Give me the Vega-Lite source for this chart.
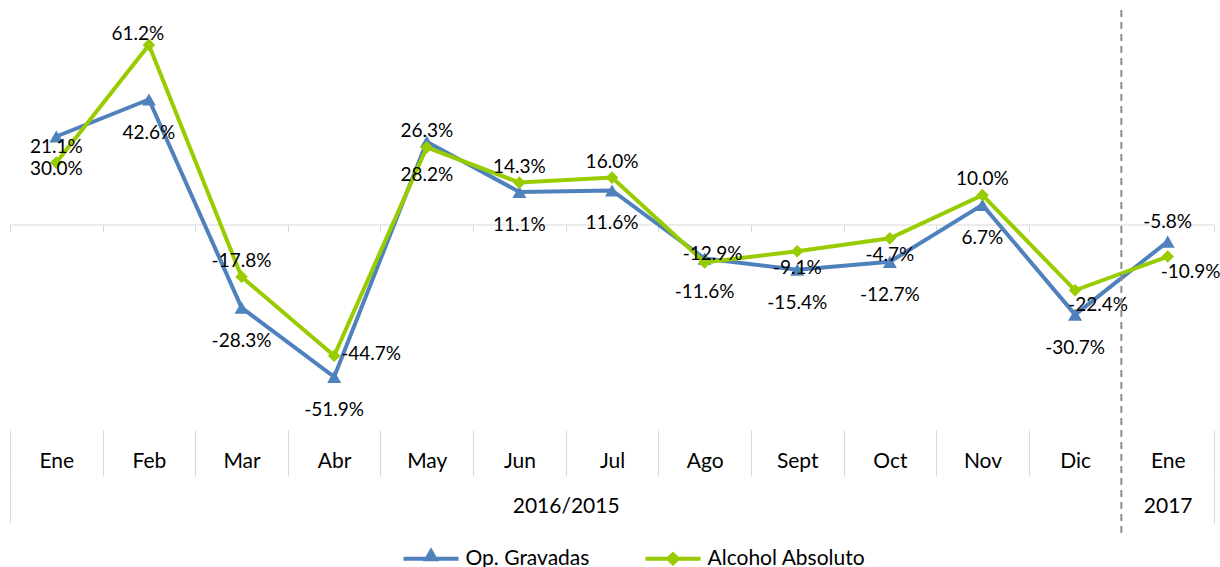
{
  "$schema": "https://vega.github.io/schema/vega-lite/v6.json",
  "width": 1204,
  "height": 430,
  "padding": {"left": 9, "top": 0, "right": 0, "bottom": 0},
  "config": {
    "font": "Lato",
    "view": {"stroke": null},
    "locale": {"number": {"decimal": ".", "thousands": ",", "grouping": [3], "currency": ["$", ""], "minus": "-"}}
  },
  "datasets": {
    "d": [
      {"clave": "Ene 2016", "serie": "Op. Gravadas", "valor": 0.300},
      {"clave": "Feb 2016", "serie": "Op. Gravadas", "valor": 0.426},
      {"clave": "Mar 2016", "serie": "Op. Gravadas", "valor": -0.283},
      {"clave": "Abr 2016", "serie": "Op. Gravadas", "valor": -0.519},
      {"clave": "May 2016", "serie": "Op. Gravadas", "valor": 0.282},
      {"clave": "Jun 2016", "serie": "Op. Gravadas", "valor": 0.111},
      {"clave": "Jul 2016", "serie": "Op. Gravadas", "valor": 0.116},
      {"clave": "Ago 2016", "serie": "Op. Gravadas", "valor": -0.116},
      {"clave": "Sept 2016", "serie": "Op. Gravadas", "valor": -0.154},
      {"clave": "Oct 2016", "serie": "Op. Gravadas", "valor": -0.127},
      {"clave": "Nov 2016", "serie": "Op. Gravadas", "valor": 0.067},
      {"clave": "Dic 2016", "serie": "Op. Gravadas", "valor": -0.307},
      {"clave": "Ene 2017", "serie": "Op. Gravadas", "valor": -0.058},
      {"clave": "Ene 2016", "serie": "Alcohol Absoluto", "valor": 0.211},
      {"clave": "Feb 2016", "serie": "Alcohol Absoluto", "valor": 0.612},
      {"clave": "Mar 2016", "serie": "Alcohol Absoluto", "valor": -0.178},
      {"clave": "Abr 2016", "serie": "Alcohol Absoluto", "valor": -0.447},
      {"clave": "May 2016", "serie": "Alcohol Absoluto", "valor": 0.263},
      {"clave": "Jun 2016", "serie": "Alcohol Absoluto", "valor": 0.143},
      {"clave": "Jul 2016", "serie": "Alcohol Absoluto", "valor": 0.160},
      {"clave": "Ago 2016", "serie": "Alcohol Absoluto", "valor": -0.129},
      {"clave": "Sept 2016", "serie": "Alcohol Absoluto", "valor": -0.091},
      {"clave": "Oct 2016", "serie": "Alcohol Absoluto", "valor": -0.047},
      {"clave": "Nov 2016", "serie": "Alcohol Absoluto", "valor": 0.100},
      {"clave": "Dic 2016", "serie": "Alcohol Absoluto", "valor": -0.224},
      {"clave": "Ene 2017", "serie": "Alcohol Absoluto", "valor": -0.109}
    ]
  },
  "layer": [
    {
      "data": {"name": "d"},
      "encoding": {
        "x": {
          "field": "clave", "type": "nominal", "sort": null,
          "scale": {"type": "band", "domain": ["Ene 2016","Feb 2016","Mar 2016","Abr 2016","May 2016","Jun 2016","Jul 2016","Ago 2016","Sept 2016","Oct 2016","Nov 2016","Dic 2016","Ene 2017"], "paddingInner": 0, "paddingOuter": 0},
          "axis": {
            "orient": "bottom", "title": null, "domain": false, "grid": false,
            "tickBand": "extent", "tickSize": 46, "tickColor": "#d9d9d9", "tickWidth": 1,
            "tickOpacity": {"condition": {"test": "datum.value == 'Dic 2016'", "value": 0}, "value": 1},
            "labelExpr": "isString(datum.value) ? split(datum.value, ' ')[0] : ''",
            "labelFontSize": 21, "labelColor": "#000000", "labelBaseline": "middle",
            "labelPadding": -15, "labelAngle": 0, "labelOverlap": false
          }
        },
        "y": {"field": "valor", "type": "quantitative", "scale": {"domain": [-0.7, 0.765], "nice": false, "zero": false}, "axis": null}
      },
      "layer": [
        {"transform": [{"filter": "datum.serie == 'Op. Gravadas'"}], "mark": {"type": "line", "color": "#4F81BD", "strokeWidth": 4}},
        {"transform": [{"filter": "datum.serie == 'Op. Gravadas'"}], "mark": {"type": "point", "shape": "triangle-up", "size": 196, "filled": true, "color": "#4F81BD", "opacity": 1}},
        {"transform": [{"filter": "datum.serie == 'Alcohol Absoluto'"}], "mark": {"type": "line", "color": "#99CC00", "strokeWidth": 4}},
        {"transform": [{"filter": "datum.serie == 'Alcohol Absoluto'"}], "mark": {"type": "point", "shape": "diamond", "size": 160, "filled": true, "color": "#99CC00", "opacity": 1}},
        {
          "transform": [{"filter": "datum.serie == 'Op. Gravadas' && datum.clave != 'Ene 2017'"}],
          "mark": {"type": "text", "fontSize": 19, "color": "#000000", "baseline": "middle", "dy": 33},
          "encoding": {"text": {"field": "valor", "type": "quantitative", "format": ".1%"}}
        },
        {
          "transform": [{"filter": "datum.serie == 'Op. Gravadas' && datum.clave == 'Ene 2017'"}],
          "mark": {"type": "text", "fontSize": 19, "color": "#000000", "baseline": "middle", "dy": -20},
          "encoding": {"text": {"field": "valor", "type": "quantitative", "format": ".1%"}}
        },
        {
          "transform": [{"filter": "datum.serie == 'Alcohol Absoluto' && indexof(['Feb 2016','Abr 2016','Ago 2016','Sept 2016','Oct 2016','Dic 2016','Ene 2017'], datum.clave) < 0"}],
          "mark": {"type": "text", "fontSize": 19, "color": "#000000", "baseline": "middle", "dy": -16},
          "encoding": {"text": {"field": "valor", "type": "quantitative", "format": ".1%"}}
        },
        {
          "transform": [{"filter": "datum.serie == 'Alcohol Absoluto' && datum.clave == 'Feb 2016'"}],
          "mark": {"type": "text", "fontSize": 19, "color": "#000000", "baseline": "middle", "dx": -11, "dy": -11},
          "encoding": {"text": {"field": "valor", "type": "quantitative", "format": ".1%"}}
        },
        {
          "transform": [{"filter": "datum.serie == 'Alcohol Absoluto' && datum.clave == 'Ago 2016'"}],
          "mark": {"type": "text", "fontSize": 19, "color": "#000000", "baseline": "middle", "dx": 8, "dy": -8},
          "encoding": {"text": {"field": "valor", "type": "quantitative", "format": ".1%"}}
        },
        {
          "transform": [{"filter": "datum.serie == 'Alcohol Absoluto' && indexof(['Sept 2016','Oct 2016'], datum.clave) >= 0"}],
          "mark": {"type": "text", "fontSize": 19, "color": "#000000", "baseline": "middle", "dy": 17},
          "encoding": {"text": {"field": "valor", "type": "quantitative", "format": ".1%"}}
        },
        {
          "transform": [{"filter": "datum.serie == 'Alcohol Absoluto' && datum.clave == 'Abr 2016'"}],
          "mark": {"type": "text", "fontSize": 19, "color": "#000000", "baseline": "middle", "align": "left", "dx": 7, "dy": -2},
          "encoding": {"text": {"field": "valor", "type": "quantitative", "format": ".1%"}}
        },
        {
          "transform": [{"filter": "datum.serie == 'Alcohol Absoluto' && indexof(['Dic 2016','Ene 2017'], datum.clave) >= 0"}],
          "mark": {"type": "text", "fontSize": 19, "color": "#000000", "baseline": "middle", "align": "left", "dx": -7, "dy": 15},
          "encoding": {"text": {"field": "valor", "type": "quantitative", "format": ".1%"}}
        }
      ]
    },
    {
      "data": {"values": [{"clave": "Ene 2017"}]},
      "mark": {"type": "rule", "color": "#8c8c8c", "strokeWidth": 2, "strokeDash": [7, 5]},
      "encoding": {
        "x": {
          "field": "clave", "type": "nominal", "sort": null, "bandPosition": 0,
          "scale": {"type": "band", "domain": ["Ene 2016","Feb 2016","Mar 2016","Abr 2016","May 2016","Jun 2016","Jul 2016","Ago 2016","Sept 2016","Oct 2016","Nov 2016","Dic 2016","Ene 2017"], "paddingInner": 0, "paddingOuter": 0},
          "axis": {
            "orient": "bottom", "title": null, "domain": false, "grid": false, "offset": 46,
            "tickBand": "extent", "tickSize": 47, "tickColor": "#d9d9d9", "tickWidth": 1,
            "tickOpacity": {"condition": {"test": "datum.value == 'Ene 2017' || !isString(datum.value)", "value": 1}, "value": 0},
            "labelExpr": "datum.value == 'Jul 2016' ? '2016/2015' : datum.value == 'Ene 2017' ? '2017' : ''",
            "labelOffset": {"condition": {"test": "datum.value == 'Jul 2016'", "value": -46.3}, "value": 0},
            "labelFontSize": 21, "labelColor": "#000000", "labelBaseline": "middle",
            "labelPadding": -17, "labelAngle": 0, "labelOverlap": false, "labelFlush": false
          }
        },
        "y": {"datum": 0.731, "type": "quantitative", "scale": {"domain": [-0.7, 0.765], "nice": false, "zero": false}, "axis": null},
        "y2": {"datum": -1.051}
      }
    },
    {
      "data": {"name": "d"},
      "mark": {"type": "point", "opacity": 0},
      "encoding": {
        "x": {
          "field": "clave", "type": "nominal", "sort": null,
          "scale": {"type": "band", "domain": ["Ene 2016","Feb 2016","Mar 2016","Abr 2016","May 2016","Jun 2016","Jul 2016","Ago 2016","Sept 2016","Oct 2016","Nov 2016","Dic 2016","Ene 2017"], "paddingInner": 0, "paddingOuter": 0},
          "axis": {
            "orient": "bottom", "title": null, "offset": -205.5, "domain": true, "domainColor": "#d9d9d9", "domainWidth": 1,
            "tickBand": "extent", "tickSize": 7, "tickColor": "#d9d9d9", "tickWidth": 1,
            "labels": false, "grid": false
          }
        }
      }
    },
    {
      "data": {"values": [{"serie": "Op. Gravadas"}, {"serie": "Alcohol Absoluto"}]},
      "transform": [{"filter": "false"}],
      "mark": {"type": "point", "filled": true, "opacity": 1},
      "encoding": {
        "color": {
          "field": "serie", "type": "nominal",
          "scale": {"domain": ["Op. Gravadas", "Alcohol Absoluto"], "range": ["#4F81BD", "#99CC00"]},
          "legend": {"title": null, "orient": "none", "legendX": 410.5, "legendY": 548, "direction": "horizontal", "padding": 0, "symbolSize": 256, "symbolStrokeWidth": 0, "labelFontSize": 21, "labelColor": "#000000", "labelOffset": 24, "columnPadding": 55}
        },
        "shape": {
          "field": "serie", "type": "nominal",
          "scale": {"domain": ["Op. Gravadas", "Alcohol Absoluto"], "range": ["M-3.44,-0.25H3.44V0.25H-3.44ZM0,-1.45L1,0.3H-1Z", "M-3.44,-0.25H3.44V0.25H-3.44ZM0,-0.9L0.95,0L0,0.9L-0.95,0Z"]},
          "legend": {"title": null, "orient": "none", "legendX": 410.5, "legendY": 548, "direction": "horizontal", "padding": 0, "symbolSize": 256, "symbolStrokeWidth": 0, "labelFontSize": 21, "labelColor": "#000000", "labelOffset": 24, "columnPadding": 55}
        }
      }
    }
  ],
  "resolve": {"scale": {"x": "independent"}}
}
